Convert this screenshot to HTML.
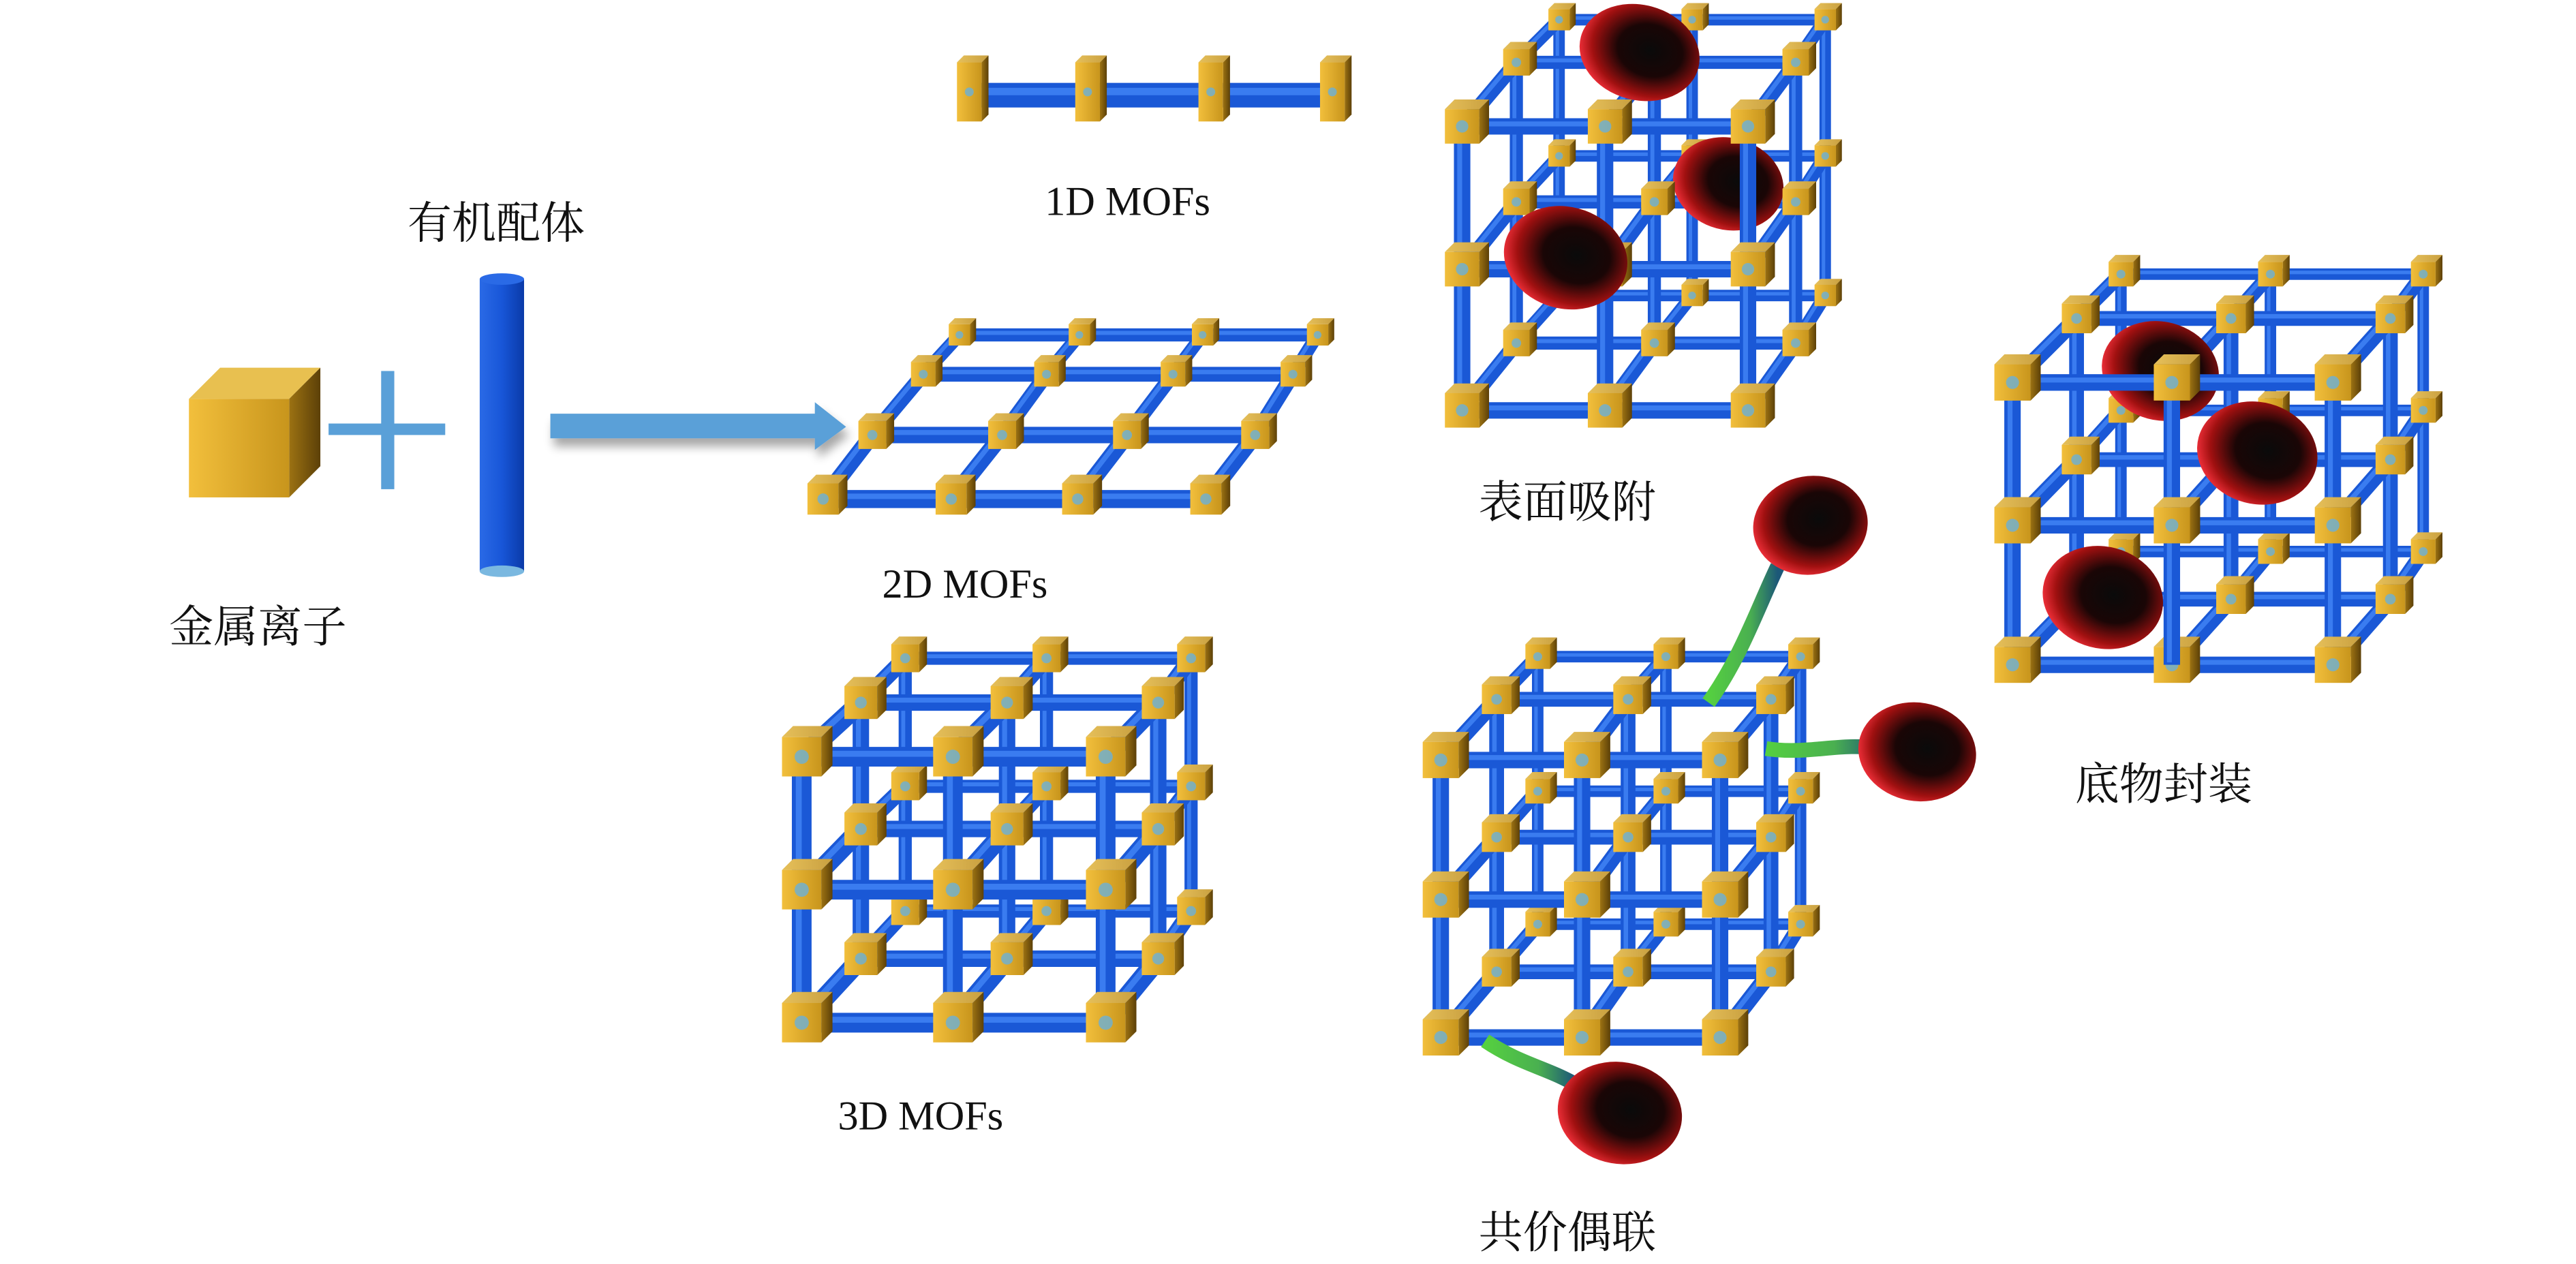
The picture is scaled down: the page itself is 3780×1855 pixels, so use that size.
<!DOCTYPE html>
<html><head><meta charset="utf-8">
<style>
html,body{margin:0;padding:0;background:#fff;}
svg{display:block;}
.cj{font-family:"Liberation Serif","Noto Serif CJK SC",serif;font-size:27px;fill:#111;}
.lt{font-family:"Liberation Serif",serif;font-size:25px;fill:#111;}
</style></head>
<body>
<svg id="s" xmlns="http://www.w3.org/2000/svg" width="3780" height="1855" viewBox="0 0 1568 770" preserveAspectRatio="none">
<defs>
<linearGradient id="gold" x1="0" x2="1" y1="0" y2="0"><stop offset="0" stop-color="#f2bf3c"/><stop offset="1" stop-color="#c8951c"/></linearGradient>
<linearGradient id="goldTop" x1="0" x2="1"><stop offset="0" stop-color="#e6c05a"/><stop offset="1" stop-color="#c9a040"/></linearGradient>
<linearGradient id="goldSide" x1="0" x2="1"><stop offset="0" stop-color="#9c7212"/><stop offset="1" stop-color="#5c4008"/></linearGradient>
<linearGradient id="rodV" x1="0" x2="1"><stop offset="0" stop-color="#2a6ae6"/><stop offset="0.5" stop-color="#1856d8"/><stop offset="1" stop-color="#0a3aa8"/></linearGradient>
<radialGradient id="ball" cx="0.58" cy="0.45" r="0.6"><stop offset="0" stop-color="#0a0a0a"/><stop offset="0.45" stop-color="#1a0606"/><stop offset="0.8" stop-color="#a01010"/><stop offset="1" stop-color="#f0303a"/></radialGradient>
<linearGradient id="stalk" x1="0" x2="1"><stop offset="0" stop-color="#55d040"/><stop offset="0.6" stop-color="#4ab050"/><stop offset="1" stop-color="#1c5878"/></linearGradient>
<filter id="sh" x="-10%" y="-50%" width="130%" height="250%"><feGaussianBlur in="SourceAlpha" stdDeviation="3"/><feOffset dx="2" dy="5"/><feComponentTransfer><feFuncA type="linear" slope="0.35"/></feComponentTransfer><feMerge><feMergeNode/><feMergeNode in="SourceGraphic"/></feMerge></filter>
</defs>
<g id="root"></g>
<text class="cj" x="248" y="145">有机配体</text>
<text class="cj" x="103" y="391">金属离子</text>
<text class="lt" x="636" y="131">1D MOFs</text>
<text class="lt" x="537" y="364">2D MOFs</text>
<text class="lt" x="510" y="688">3D MOFs</text>
<text class="cj" x="900" y="315">表面吸附</text>
<text class="cj" x="1263" y="487">底物封装</text>
<text class="cj" x="900" y="760">共价偶联</text>
</svg>
<script>
var NS="http://www.w3.org/2000/svg";
var out=[];
function rod(x1,y1,x2,y2,w){
  out.push('<line x1="'+x1+'" y1="'+y1+'" x2="'+x2+'" y2="'+y2+'" stroke="#1a58d6" stroke-width="'+w+'"/>');
  out.push('<line x1="'+x1+'" y1="'+y1+'" x2="'+x2+'" y2="'+y2+'" stroke="#3a7cf0" stroke-width="'+(w*0.3)+'" transform="translate('+(-w*0.15)+','+(-w*0.15)+')"/>');
}
function node(cx,cy,s,h){
  h=h||s; var d=s*0.28;
  var x=cx-s/2,y=cy-h/2;
  out.push('<polygon points="'+x+','+y+' '+(x+d)+','+(y-d)+' '+(x+s+d)+','+(y-d)+' '+(x+s)+','+y+'" fill="url(#goldTop)"/>');
  out.push('<polygon points="'+(x+s)+','+y+' '+(x+s+d)+','+(y-d)+' '+(x+s+d)+','+(y+h-d)+' '+(x+s)+','+(y+h)+'" fill="url(#goldSide)"/>');
  out.push('<rect x="'+x+'" y="'+y+'" width="'+s+'" height="'+h+'" fill="url(#gold)"/>');
  out.push('<ellipse cx="'+cx+'" cy="'+cy+'" rx="'+(s*0.18)+'" ry="'+(s*0.18)+'" fill="#6ab0d8" opacity="0.8"/>');
}
function lattice(L,sz,rw){
  for(var l=0;l<L.length;l++){
    var a=L[l];
    for(var j=0;j<a.ys.length;j++) rod(a.xs[0],a.ys[j],a.xs[a.xs.length-1],a.ys[j],rw[l]);
    for(var i=0;i<a.xs.length;i++) rod(a.xs[i],a.ys[0],a.xs[i],a.ys[a.ys.length-1],rw[l]);
    if(l>0){var b=L[l-1];
      for(var j=0;j<a.ys.length;j++)for(var i=0;i<a.xs.length;i++) rod(b.xs[i],b.ys[j],a.xs[i],a.ys[j],rw[l]);
      for(var j=0;j<b.ys.length;j++)for(var i=0;i<b.xs.length;i++) node(b.xs[i],b.ys[j],sz[l-1]);
    }
    if(l==L.length-1){for(var j=0;j<a.ys.length;j++)for(var i=0;i<a.xs.length;i++) node(a.xs[i],a.ys[j],sz[l]);}
  }
}
function ball(cx,cy,rx,ry,rot){out.push('<ellipse cx="'+cx+'" cy="'+cy+'" rx="'+rx+'" ry="'+ry+'" fill="url(#ball)" transform="rotate('+(rot||0)+' '+cx+' '+cy+')"/>');}
function stalk(d){out.push('<path d="'+d+'" stroke="url(#stalk)" stroke-width="9" fill="none"/>');}

out.push('<polygon points="115,243 134,224 195,224 176,243" fill="#e8c050"/>');
out.push('<polygon points="176,243 195,224 195,284 176,303" fill="url(#goldSide)"/>');
out.push('<rect x="115" y="243" width="61" height="60" fill="url(#gold)"/>');
out.push('<rect x="200" y="258" width="71" height="7" fill="#5aa0d8"/>');
out.push('<rect x="232" y="226" width="8" height="72" fill="#5aa0d8"/>');
out.push('<rect x="292" y="170" width="27" height="178" fill="url(#rodV)"/>');
out.push('<ellipse cx="305.5" cy="170" rx="13.5" ry="3.5" fill="#2a6ae6"/>');
out.push('<ellipse cx="305.5" cy="348" rx="13.5" ry="3.5" fill="#7ab8e0"/>');
out.push('<polygon filter="url(#sh)" points="335,252 496,252 496,245 515,260 496,274 496,267 335,267" fill="#5aa0d8"/>');

rod(590,58,811,58,15);
[590,662,737,811].forEach(function(x){node(x,56,15,36);});

var rows=[{y:204,xs:[584,657,732,802],s:13},{y:228,xs:[562,637,714,787],s:15},{y:265,xs:[531,610,686,764],s:17},{y:304,xs:[501,579,656,734],s:19}];
for(var r=0;r<rows.length;r++){
  var R=rows[r]; rod(R.xs[0],R.y,R.xs[3],R.y,8+r);
  if(r>0){var P=rows[r-1];for(var i=0;i<4;i++) rod(P.xs[i],P.y,R.xs[i],R.y,7+r);
    for(var i=0;i<4;i++) node(P.xs[i],P.y,P.s);}
}
for(var i=0;i<4;i++) node(rows[3].xs[i],rows[3].y,rows[3].s);

lattice([{xs:[551,637,725],ys:[401,479,555]},{xs:[524,613,705],ys:[428,505,584]},{xs:[488,580,673],ys:[461,542,623]}],[17,20,24],[8,10,12]);

// surface adsorption
lattice([{xs:[949,1030,1111],ys:[12,95,180]},{xs:[923,1007,1093],ys:[38,123,209]}],[13,16],[7,8]);
ball(1052,112,34,28,15);
(function(){var b={xs:[923,1007,1093],ys:[38,123,209]},a={xs:[890,977,1064],ys:[77,164,250]};
 for(var j=0;j<3;j++)rod(a.xs[0],a.ys[j],a.xs[2],a.ys[j],10);
 for(var i=0;i<3;i++)rod(a.xs[i],a.ys[0],a.xs[i],a.ys[2],10);
 for(var j=0;j<3;j++)for(var i=0;i<3;i++)rod(b.xs[i],b.ys[j],a.xs[i],a.ys[j],9);
 for(var j=0;j<3;j++)for(var i=0;i<3;i++)node(b.xs[i],b.ys[j],16);
 for(var j=0;j<3;j++)for(var i=0;i<3;i++)node(a.xs[i],a.ys[j],21);
})();
ball(998,32,37,29,15);
ball(953,157,38,31,15);

// encapsulation
lattice([{xs:[1291,1382,1475],ys:[167,250,336]},{xs:[1264,1358,1455],ys:[194,280,365]},{xs:[1225,1322,1420],ys:[233,320,405]}],[15,18,22],[7,9,10]);
ball(1374,276,37,31,15);
ball(1280,364,37,31,15);
ball(1315,226,36,30,15);
rod(1225,233,1420,233,10);rod(1322,233,1322,405,10);
node(1225,233,22);node(1322,233,22);node(1420,233,22);node(1322,320,22);node(1225,320,22);

// covalent
lattice([{xs:[936,1014,1096],ys:[400,482,563]},{xs:[911,991,1078],ys:[426,510,592]},{xs:[877,963,1047],ys:[463,548,632]}],[15,18,22],[7,9,10]);
stalk('M1040,428 C1060,400 1070,370 1082,345');
ball(1102,320,35,30,-10);
stalk('M1075,456 C1100,460 1120,452 1144,456');
ball(1167,458,36,30,10);
stalk('M904,634 C925,648 940,650 958,660');
ball(986,678,38,31,10);

document.getElementById('root').innerHTML=out.join('');
</script>
</body></html>
